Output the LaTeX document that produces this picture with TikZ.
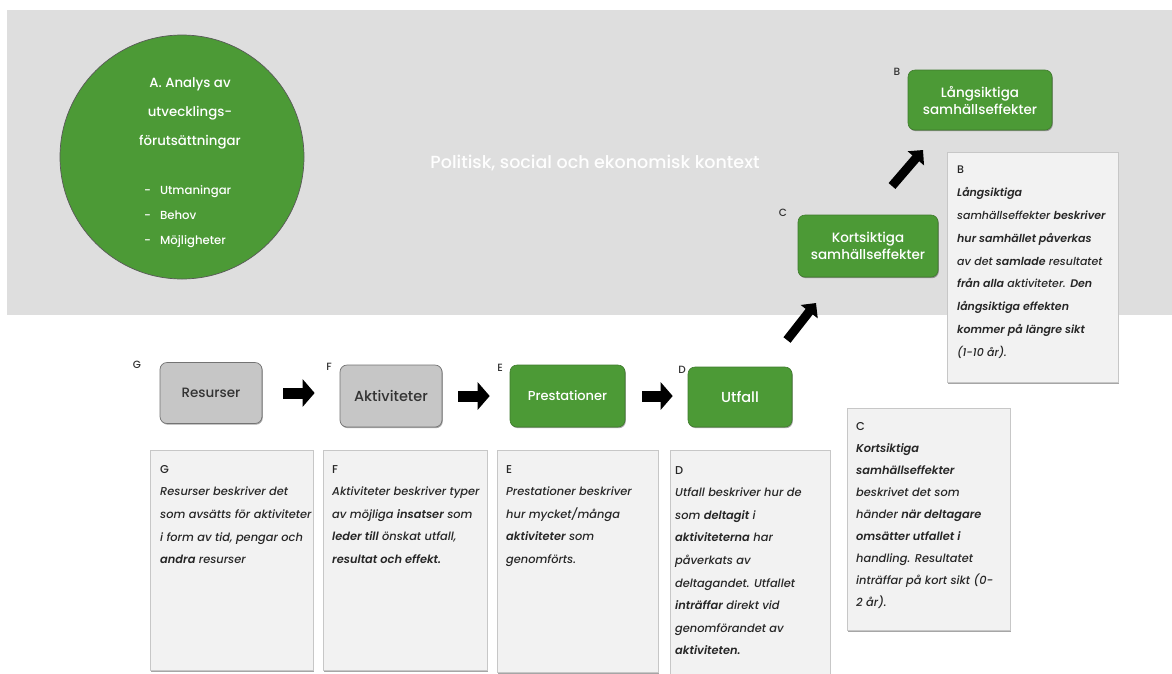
\documentclass[tikz,border=0pt]{standalone}
\usepackage{fontspec}
\setmainfont{Poppins}[UprightFont=* Medium, ItalicFont=* Medium Italic, BoldFont=* SemiBold, BoldItalicFont=* SemiBold Italic]
\usetikzlibrary{arrows.meta,shadows,calc,positioning}
\definecolor{bggray}{HTML}{DEDEDE}
\definecolor{grn}{HTML}{4C9A36}
\definecolor{grnline}{HTML}{3E7A2C}
\definecolor{boxgray}{HTML}{C6C6C6}
\definecolor{txtbg}{HTML}{F2F2F2}
\definecolor{lbl}{HTML}{333333}
\tikzset{
  gbox/.style={draw=grnline, line width=0.6pt, fill=grn, rounded corners=7pt, text=white,
    align=center, font=\fontsize{13.5}{17}\selectfont,
    drop shadow={shadow xshift=0.8pt, shadow yshift=-1.2pt, fill=black, opacity=0.35}},
  graybox/.style={draw=black!55, line width=0.7pt, fill=boxgray, rounded corners=7pt, text=black!80,
    align=center, font=\fontsize{13.5}{17}\selectfont,
    drop shadow={shadow xshift=0.8pt, shadow yshift=-1.2pt, fill=black, opacity=0.35}},
  letter/.style={text=lbl, font=\fontsize{10.5}{12}\selectfont, inner sep=0pt},
  tbox/.style={draw=black!22, line width=0.7pt, fill=txtbg, anchor=north west, inner sep=0pt,
    drop shadow={shadow xshift=1pt, shadow yshift=-1.3pt, fill=black, opacity=0.35}},
  ttext/.style={anchor=north west, inner sep=0pt, align=left, text=black!85,
    font=\itshape\fontsize{11.4}{22.6}\selectfont},
  blk/.style={line width=11pt, -{Triangle[length=12pt,width=27pt]}, black},
  blkd/.style={line width=9pt, -{Triangle[length=11pt,width=21pt]}, black},
}
\begin{document}
\begin{tikzpicture}[x=1pt,y=-1pt]
\useasboundingbox (0,0) rectangle (1172,673);
\fill[white] (0,0) rectangle (1172,673);
% background band
\node[fill=bggray, inner sep=0pt, minimum width=1165pt, minimum height=305pt, anchor=north west] (band) at (7,10) {};
\node[text=white!96!bggray, font=\fontsize{17.5}{20}\selectfont, inner sep=0pt] (ctx) at (595,163) {Politisk, social och ekonomisk kontext};
% circle A
\node[circle, draw=black!65, line width=0.7pt, fill=grn, minimum size=244pt, inner sep=0pt] (circ) at (182,157) {};
\node[text=white, align=center, font=\fontsize{13.3}{29}\selectfont, inner sep=0pt, anchor=north] (atext) at (190,77) {A. Analys av\\utvecklings-\\förutsättningar};
\node[text=white, align=left, font=\fontsize{11.7}{25}\selectfont, inner sep=0pt, anchor=west] (alist) at (144,217) {-\hspace{9pt}Utmaningar\\-\hspace{9pt}Behov\\-\hspace{9pt}Möjligheter};
% top boxes
\node[gbox, minimum width=144pt, minimum height=60pt] (lang) at (980,100) {Långsiktiga\\samhällseffekter};
\node[letter] (lB) at (897,72) {B};
\node[gbox, minimum width=140pt, minimum height=62pt] (kort) at (868,246) {Kortsiktiga\\samhällseffekter};
\node[letter] (lC) at (783,213) {C};
% lower row
\node[graybox, minimum width=102pt, minimum height=61pt] (res) at (211,393) {Resurser};
\node[letter] (lG) at (137,365) {G};
\node[graybox, minimum width=102pt, minimum height=62pt, font=\fontsize{14.5}{17}\selectfont] (akt) at (391,396) {Aktiviteter};
\node[letter] (lF) at (329,367) {F};
\node[gbox, minimum width=115pt, minimum height=62pt, font=\fontsize{13}{17}\selectfont] (pres) at (567.5,396) {Prestationer};
\node[letter] (lE) at (500,368) {E};
\node[gbox, minimum width=104pt, minimum height=60pt, font=\fontsize{14.5}{17}\selectfont] (utf) at (740,397) {Utfall};
\node[letter] (lD) at (682,370) {D};
% arrows
\draw[blk, shorten <=21pt, shorten >=25pt] (res.east) -- (res.east -| akt.west);
\draw[blk, shorten <=16pt, shorten >=20pt] (akt.east) -- (akt.east -| pres.west);
\draw[blk, shorten <=17pt, shorten >=15pt] (pres.east) -- (pres.east -| utf.west);
\coordinate (d1s) at (787,340);
\coordinate (d1e) at (816,303);
\coordinate (d2s) at (892,186);
\coordinate (d2e) at (923,150);
\draw[blkd] (d1s) -- (d1e);
\draw[blkd] (d2s) -- (d2e);
% text boxes
\node[tbox, minimum width=163pt, minimum height=220pt] (tG) at (150,450) {};
\node[ttext] (xG) at ($(tG.north west)+(10,15)$) {{\upshape G}\\Resurser beskriver det\\som avsätts för aktiviteter\\i form av tid, pengar och\\{\bfseries andra} resurser};
\node[tbox, minimum width=164pt, minimum height=220pt] (tF) at (323,450) {};
\node[ttext] (xF) at ($(tF.north west)+(9,15)$) {{\upshape F}\\Aktiviteter beskriver typer\\av möjliga {\bfseries insatser} som\\{\bfseries leder till} önskat utfall,\\{\bfseries resultat och effekt.}};
\node[tbox, minimum width=161pt, minimum height=222pt] (tE) at (497,450) {};
\node[ttext] (xE) at ($(tE.north west)+(9,15)$) {{\upshape E}\\Prestationer beskriver\\hur mycket/många\\{\bfseries aktiviteter} som\\genomförts.};
\node[tbox, minimum width=160pt, minimum height=226pt] (tD) at (670,450) {};
\node[ttext] (xD) at ($(tD.north west)+(5,16)$) {{\upshape D}\\Utfall beskriver hur de\\som {\bfseries deltagit} i\\{\bfseries aktiviteterna} har\\påverkats av\\deltagandet. Utfallet\\{\bfseries inträffar} direkt vid\\genomförandet av\\{\bfseries aktiviteten.}};
\node[tbox, minimum width=163pt, minimum height=222pt] (tC) at (847,408) {};
\node[ttext, font=\itshape\fontsize{11.4}{22}\selectfont] (xC) at ($(tC.north west)+(9,14)$) {{\upshape C}\\{\bfseries Kortsiktiga}\\{\bfseries samhällseffekter}\\beskrivet det som\\händer {\bfseries när deltagare}\\{\bfseries omsätter utfallet i}\\handling. Resultatet\\inträffar på kort sikt (0-\\2 år).};
\node[tbox, minimum width=171pt, minimum height=230pt] (tB) at (947,152) {};
\node[ttext, font=\itshape\fontsize{11}{22.8}\selectfont] (xB) at ($(tB.north west)+(10,14)$) {{\upshape B}\\{\bfseries Långsiktiga}\\samhällseffekter {\bfseries beskriver}\\{\bfseries hur samhället påverkas}\\av det {\bfseries samlade} resultatet\\{\bfseries från alla} aktiviteter. {\bfseries Den}\\{\bfseries långsiktiga effekten}\\{\bfseries kommer på längre sikt}\\(1-10 år).};
\end{tikzpicture}
\end{document}
